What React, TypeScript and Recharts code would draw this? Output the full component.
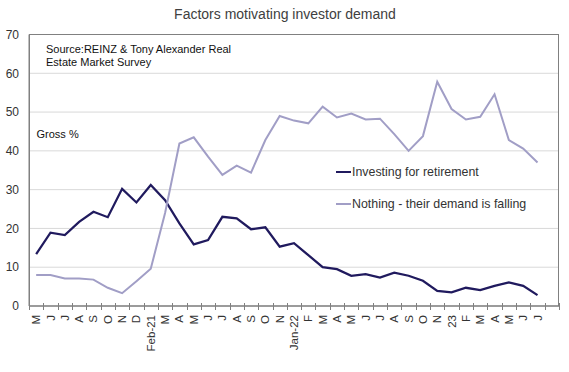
import React from 'react';
import { LineChart, Line, XAxis, YAxis, CartesianGrid, Legend } from 'recharts';

const months = ['M','J','J','A','S','O','N','D','Feb-21','M','A','M','J','J','A','S','O','N','Jan-22','F','M','A','M','J','J','A','S','O','N','23','F','M','A','M','J','J',''];

const investing = [13.4, 18.9, 18.3, 21.7, 24.3, 22.9, 30.2, 26.7, 31.2, 27.3, 21.3, 15.9, 17.0, 23.0, 22.6, 19.8, 20.3, 15.3, 16.2, 13.1, 10.0, 9.5, 7.8, 8.2, 7.3, 8.6, 7.8, 6.5, 3.9, 3.5, 4.7, 4.1, 5.2, 6.1, 5.2, 2.8, null];

const nothing = [8.0, 8.0, 7.1, 7.1, 6.8, 4.7, 3.3, 6.4, 9.6, 24.0, 41.9, 43.5, 38.5, 33.8, 36.2, 34.4, 42.8, 49.0, 47.8, 47.1, 51.4, 48.6, 49.6, 48.1, 48.3, 44.3, 40.0, 43.8, 57.8, 50.8, 48.1, 48.8, 54.6, 42.8, 40.6, 37.0, null];

const yTicks = [0, 10, 20, 30, 40, 50, 60, 70];

const seriesNames = ['Investing for retirement', 'Nothing - their demand is falling'];
const seriesColors = ['#201a5e', '#a19ec6'];

const data = months.map((m, i) => ({ idx: i, investing: investing[i], nothing: nothing[i] }));

const FONT = "'Liberation Sans', Arial, sans-serif";
const AXIS_GRAY = '#808080';

// plot frame (layout only)
const PLOT = { left: 29, top: 34.5, right: 559, bottom: 306 };
const HALF_BAND = (PLOT.right - PLOT.left) / months.length / 2;

const XTick = (props: any) => {
  const { x, y, payload, index } = props;
  const label = months[payload.value];
  const last = index === months.length - 1;
  const tx = Math.round(x - HALF_BAND) + 0.5;
  const tx2 = Math.round(x + HALF_BAND) + 0.5;
  return (
    <g>
      <line x1={tx} x2={tx} y1={y - 3} y2={y + 4} stroke={AXIS_GRAY} strokeWidth={1} />
      {last && <line x1={tx2} x2={tx2} y1={y - 3} y2={y + 4} stroke={AXIS_GRAY} strokeWidth={1} />}
      <text
        transform={`translate(${x},${y + 9}) rotate(-90)`}
        textAnchor="end"
        dy="0.35em"
        fontSize={11.5}
        fill="#333"
        fontFamily={FONT}
      >
        {label}
      </text>
    </g>
  );
};

const LegendContent = (props: any) => {
  const payload = props.payload || [];
  return (
    <div style={{ fontFamily: FONT, fontSize: 12.4, color: '#333' }}>
      {payload.map((p: any, i: number) => (
        <div key={i} style={{ display: 'flex', alignItems: 'center', height: 32 }}>
          <span style={{ display: 'inline-block', width: 15, height: 2, background: p.color, marginRight: 1 }} />
          <span>{p.value}</span>
        </div>
      ))}
    </div>
  );
};

export default function App() {
  return (
    <div style={{ position: 'absolute', left: 0, top: 0, width: 569, height: 372, background: '#fff', fontFamily: FONT }}>
      <LineChart width={569} height={372} data={data} margin={{ top: 34.5, right: 10, bottom: 0, left: 0 }}>
        <CartesianGrid vertical={false} stroke="#d9d9d9" />
        <XAxis
          dataKey="idx"
          type="category"
          scale="band"
          interval={0}
          height={66}
          tickSize={0}
          tickMargin={0}
          tickLine={false}
          axisLine={{ stroke: AXIS_GRAY }}
          tick={<XTick />}
        />
        <YAxis
          domain={[0, 70]}
          ticks={yTicks}
          width={29}
          tickSize={0}
          tickMargin={10}
          tickLine={false}
          axisLine={{ stroke: AXIS_GRAY }}
          tick={{ fontSize: 12, fill: '#333', fontFamily: FONT }}
        />
        <Legend
          layout="vertical"
          align="center"
          verticalAlign="middle"
          content={<LegendContent />}
          wrapperStyle={{ position: 'absolute', left: 336, top: 156, width: 230 }}
        />
        <Line
          dataKey="investing"
          name={seriesNames[0]}
          stroke={seriesColors[0]}
          strokeWidth={2.25}
          dot={false}
          isAnimationActive={false}
          type="linear"
        />
        <Line
          dataKey="nothing"
          name={seriesNames[1]}
          stroke={seriesColors[1]}
          strokeWidth={2}
          dot={false}
          isAnimationActive={false}
          type="linear"
        />
      </LineChart>
      <svg width={569} height={372} style={{ position: 'absolute', left: 0, top: 0, pointerEvents: 'none' }}>
        <rect
          x={PLOT.left + 0.5}
          y={PLOT.top}
          width={PLOT.right - PLOT.left - 1}
          height={PLOT.bottom - PLOT.top}
          fill="none"
          stroke={AXIS_GRAY}
          strokeWidth={1}
        />
        <text x={285} y={19} textAnchor="middle" fontSize={14} fill="#404040" fontFamily={FONT}>
          Factors motivating investor demand
        </text>
        <text x={46} y={53} fontSize={11} fill="#111" fontFamily={FONT}>
          Source:REINZ &amp; Tony Alexander Real
        </text>
        <text x={46} y={66} fontSize={11} fill="#111" fontFamily={FONT}>
          Estate Market Survey
        </text>
        <text x={36.5} y={138} fontSize={11} fill="#111" fontFamily={FONT}>
          Gross %
        </text>
      </svg>
    </div>
  );
}
